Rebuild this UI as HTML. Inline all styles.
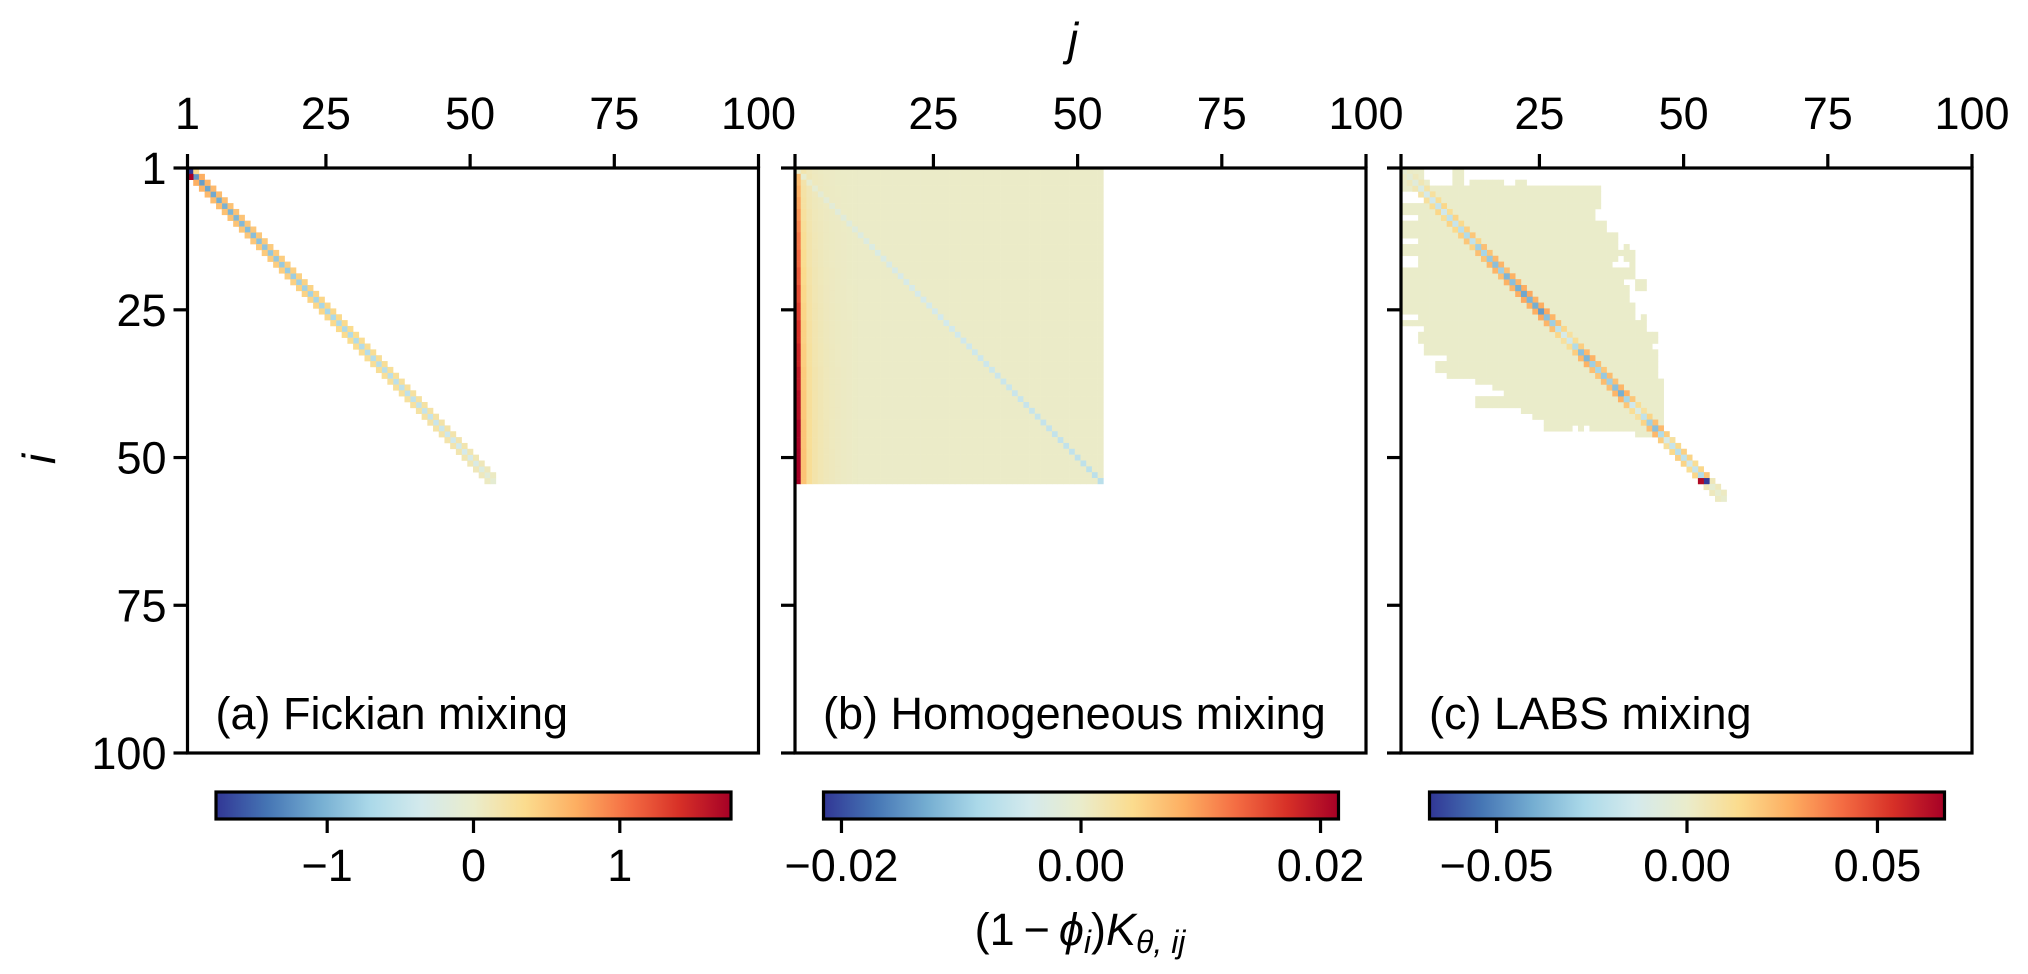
<!DOCTYPE html>
<html><head><meta charset="utf-8">
<style>
html,body{margin:0;padding:0;background:#fff;}
svg{display:block;font-family:"Liberation Sans",sans-serif;}
</style></head>
<body>
<svg id="fig" width="2028" height="974" viewBox="0 0 2028 974" xmlns="http://www.w3.org/2000/svg">
<g id="cells"></g>
<g id="axes"></g>
</svg>
<script>
// ---------- data ----------
const tickVals = [1, 25, 50, 75, 100];
const panelTitles = ["(a) Fickian mixing", "(b) Homogeneous mixing", "(c) LABS mixing"];
const vmaxes = [1.76, 0.0215, 0.0676];
const cbTicks1 = [-1, 0, 1];
const cbTickLabels1 = ["\u22121", "0", "1"];
const cbTicks2 = [-0.02, 0, 0.02];
const cbTickLabels2 = ["\u22120.02", "0.00", "0.02"];
const cbTicks3 = [-0.05, 0, 0.05];
const cbTickLabels3 = ["\u22120.05", "0.00", "0.05"];

// (a) Fickian: tridiagonal, 54 rows
const fickDiag = [-1.77,-1.2,-1.15,-1.1,-1.08,-1.05,-1.02,-1.0,-0.98,-0.96,-0.94,-0.92,-0.9,-0.88,-0.86,-0.85,-0.83,-0.82,-0.8,-0.78,-0.77,-0.76,-0.74,-0.73,-0.72,-0.7,-0.69,-0.68,-0.66,-0.65,-0.64,-0.62,-0.61,-0.6,-0.58,-0.57,-0.56,-0.54,-0.53,-0.52,-0.5,-0.48,-0.47,-0.45,-0.43,-0.41,-0.39,-0.37,-0.34,-0.31,-0.27,-0.22,-0.15,-0.08];
const fickOff = [0.35,0.7,0.65,0.62,0.6,0.58,0.56,0.55,0.54,0.53,0.52,0.51,0.5,0.49,0.48,0.47,0.46,0.45,0.44,0.43,0.42,0.41,0.4,0.39,0.38,0.37,0.36,0.35,0.34,0.33,0.32,0.31,0.3,0.3,0.29,0.28,0.27,0.26,0.25,0.24,0.23,0.22,0.21,0.2,0.19,0.18,0.17,0.16,0.14,0.12,0.1,0.08,0.05];
const fickSpecial = [[1, 0, 1.77]];

// (b) Homogeneous: 54x54 block
const homCol0 = [0.006,0.007,0.007,0.008,0.008,0.009,0.009,0.01,0.01,0.011,0.011,0.012,0.012,0.012,0.013,0.013,0.013,0.014,0.014,0.014,0.015,0.015,0.015,0.016,0.016,0.016,0.017,0.017,0.017,0.017,0.018,0.018,0.018,0.018,0.019,0.019,0.019,0.019,0.02,0.02,0.02,0.02,0.02,0.021,0.021,0.021,0.021,0.021,0.0215,0.0215,0.0215,0.0215,0.0215,0.0215];
const homFalloff = [1.0,0.3,0.16,0.1,0.07,0.05,0.035,0.025,0.018,0.012,0.008];
const homBg = 0.0002;
const homDiag = [-0.0003,-0.0005,-0.0008,-0.001,-0.0012,-0.0014,-0.0016,-0.0018,-0.002,-0.0022,-0.0024,-0.0026,-0.0028,-0.003,-0.0031,-0.0032,-0.0034,-0.0035,-0.0036,-0.0037,-0.0038,-0.0039,-0.004,-0.0041,-0.0042,-0.0043,-0.0044,-0.0045,-0.0046,-0.0047,-0.0048,-0.0049,-0.005,-0.005,-0.0051,-0.0052,-0.0053,-0.0054,-0.0055,-0.0056,-0.0057,-0.0058,-0.0059,-0.006,-0.006,-0.0061,-0.0062,-0.0063,-0.0064,-0.0065,-0.0066,-0.0067,-0.0068,-0.007];

// (c) LABS: nonzero column ranges per row
const labsRows = [
 [[0,3],[9,10]],[[0,3],[9,10]],[[0,4],[9,10],[12,17],[20,21]],[[0,34]],[[4,34]],[[4,34]],[[0,34]],[[0,33]],[[3,33]],[[0,35]],
 [[0,35]],[[0,37]],[[3,37]],[[0,37],[39,39]],[[0,40]],[[3,37],[39,40]],[[3,36],[40,40]],[[0,40]],[[0,40]],[[0,38],[41,42]],
 [[0,39],[41,42]],[[0,39]],[[0,39]],[[0,40]],[[0,40]],[[3,40],[42,42]],[[0,42]],[[4,42]],[[3,44]],[[3,44]],
 [[4,43]],[[4,44]],[[8,44]],[[6,44]],[[6,44]],[[8,44]],[[13,45]],[[16,45]],[[18,45]],[[13,45]],
 [[13,45]],[[21,45]],[[23,45]],[[25,45]],[[25,29],[31,31],[33,45]],[[41,46]],[[45,47]],[[46,48]],[[47,49]],[[48,50]],
 [[49,51]],[[50,52]],[[51,53]],[[52,54]],[[53,55]],[[54,56]],[[55,56]]
];
const labsBg = 0.0003;
const labsDiag = [-0.003,-0.004,-0.006,-0.01,-0.012,-0.015,-0.018,-0.015,-0.02,-0.018,-0.022,-0.025,-0.02,-0.03,-0.028,-0.032,-0.035,-0.03,-0.038,-0.035,-0.04,-0.042,-0.038,-0.04,-0.045,-0.035,-0.03,-0.02,-0.012,-0.015,-0.025,-0.035,-0.038,-0.03,-0.028,-0.032,-0.03,-0.035,-0.04,-0.028,-0.015,-0.01,-0.02,-0.03,-0.035,-0.025,-0.012,-0.018,-0.022,-0.02,-0.015,-0.018,-0.025,-0.067,-0.003,-0.002,-0.001];
const labsOff = [0.001,0.003,0.005,0.008,0.01,0.012,0.015,0.012,0.016,0.014,0.017,0.02,0.016,0.022,0.021,0.024,0.025,0.022,0.026,0.025,0.027,0.028,0.026,0.027,0.028,0.025,0.022,0.015,0.01,0.012,0.018,0.024,0.026,0.022,0.02,0.023,0.022,0.025,0.026,0.02,0.012,0.01,0.016,0.022,0.024,0.018,0.01,0.014,0.017,0.016,0.012,0.015,0.02,0.004,0.003,0.002];
const labsSpecial = [[53, 52, 0.065]];

// ---------- layout ----------
const NS = "http://www.w3.org/2000/svg";
const panelX = [187.5, 795, 1401];
const PW = 571, PT = 168, PH = 585;
const CW = PW / 100, CH = PH / 100;
const cbY = 792, cbH = 27, cbInset = 28.5, cbW = 515;
const FS = 45;
const cmapStops = ["#313695","#4575b4","#74add1","#abd9e9","#d4eaec","#eaeccb","#fbdc8e","#fdae61","#f46d43","#d73027","#a50026"];
function hex(c){return [parseInt(c.slice(1,3),16),parseInt(c.slice(3,5),16),parseInt(c.slice(5,7),16)];}
const cstops = cmapStops.map(hex);
function cmap(t){
  t = Math.max(0, Math.min(1, t));
  const s = t * 10, i = Math.min(9, Math.floor(s)), f = s - i;
  const a = cstops[i], b = cstops[i+1];
  return "rgb(" + [0,1,2].map(k => Math.round(a[k] + (b[k]-a[k]) * f)).join(",") + ")";
}
function colorFor(v, p){ return cmap((v / vmaxes[p] + 1) / 2); }
function xTick(p, j){ return panelX[p] + (j - 1) * PW / 99; }
function yTick(i){ return PT + (i - 1) * PH / 99; }
const cellG = document.getElementById("cells");
const axG = document.getElementById("axes");
function mk(tag, attrs, parent){
  const e = document.createElementNS(NS, tag);
  for (const k in attrs) e.setAttribute(k, attrs[k]);
  parent.appendChild(e);
  return e;
}
function cell(p, r, c, v, parent){
  const e = mk("rect", {x: panelX[p] + c * CW, y: PT + r * CH, width: CW + 0.3, height: CH + 0.3, fill: colorFor(v, p)}, parent);
  
  
}

// panel a
const gA = mk("g", {}, cellG);


fickDiag.forEach((v, r) => cell(0, r, r, v, gA));
fickOff.forEach((v, r) => {
  if (!(r === 0)) cell(0, r + 1, r, v, gA);
  cell(0, r, r + 1, v, gA);
});
fickSpecial.forEach(s => cell(0, s[0], s[1], s[2], gA));

// panel b
const gB = mk("g", {}, cellG);


const nB = homDiag.length;
for (let r = 0; r < nB; r++) {
  for (let c = 0; c < nB; c++) {
    let v = homBg;
    if (c < homFalloff.length) v += homCol0[r] * homFalloff[c];
    if (c === r) v = homDiag[r];
    cell(1, r, c, v, gB);
  }
}

// panel c
const gC = mk("g", {}, cellG);


labsRows.forEach((ranges, r) => {
  ranges.forEach(rg => { for (let c = rg[0]; c <= rg[1]; c++) cell(2, r, c, labsBg, gC); });
});
labsOff.forEach((v, r) => { cell(2, r, r + 1, v, gC); cell(2, r + 1, r, v, gC); });
labsDiag.forEach((v, r) => cell(2, r, r, v, gC));
labsSpecial.forEach(s => cell(2, s[0], s[1], s[2], gC));

// ---------- axes ----------
function line(x1, y1, x2, y2, w, parent, name){
  const e = mk("line", {x1, y1, x2, y2, stroke: "#000", "stroke-width": w}, parent);
  
  
  return e;
}
function text(x, y, s, anchor, size, parent, name, extra){
  const e = mk("text", Object.assign({x, y, "text-anchor": anchor, "font-size": size, fill: "#000"}, extra || {}), parent);
  e.textContent = s;
  
  
  return e;
}
const cbTicksAll = [cbTicks1, cbTicks2, cbTicks3];
const cbLabelsAll = [cbTickLabels1, cbTickLabels2, cbTickLabels3];
for (let p = 0; p < 3; p++) {
  const g = mk("g", {}, axG);
  
  
  const x0 = panelX[p];
  const fr = mk("rect", {x: x0, y: PT, width: PW, height: PH, fill: "none", stroke: "#000", "stroke-width": 3.2}, g);
  
  
  tickVals.forEach(t => {
    const x = xTick(p, t);
    line(x, PT, x, PT - 14, 3.2, g, 'x-tick');
    if (!(p > 0 && t === 1)) text(x, 129, String(t), "middle", FS, g, 'x-tick-label');
    const y = yTick(t);
    line(x0, y, x0 - 14, y, 3.2, g, 'y-tick');
    if (p === 0) text(x0 - 21, y + 16, String(t), "end", FS, g, 'y-tick-label');
  });
  text(x0 + 28, 729, panelTitles[p], "start", FS, g, 'panel-title');
  // colorbar
  const cx = x0 + cbInset;
  const grad = mk("linearGradient", {id: "cg" + p, x1: 0, x2: 1, y1: 0, y2: 0}, g);
  for (let k = 0; k <= 20; k++) mk("stop", {offset: k / 20, "stop-color": cmap(k / 20)}, grad);
  const cb = mk("rect", {x: cx, y: cbY, width: cbW, height: cbH, fill: "url(#cg" + p + ")", stroke: "#000", "stroke-width": 3.2}, g);
  
  
  cbTicksAll[p].forEach((t, k) => {
    const x = cx + cbW / 2 + (t / vmaxes[p]) * cbW / 2;
    line(x, cbY + cbH, x, cbY + cbH + 14, 3.2, g, 'colorbar-tick');
    text(x, 881, cbLabelsAll[p][k], "middle", FS, g, 'colorbar-tick-label');
  });
}
text(1073, 55, "j", "middle", 46, axG, 'x-axis-title', {"font-style": "italic"});
text(0, 0, "i", "middle", 46, axG, 'y-axis-title', {"font-style": "italic", transform: "translate(55,459) rotate(-90)"});
const cl = mk("text", {x: 1080, y: 945, "text-anchor": "middle", "font-size": 45}, axG);


cl.innerHTML = '(1\u2009\u2212\u2009<tspan font-style="italic">\u03d5</tspan><tspan font-style="italic" font-size="32" dy="8">i</tspan><tspan dy="-8">)</tspan><tspan font-style="italic">K</tspan><tspan font-style="italic" font-size="32" dy="8">\u03b8, ij</tspan>';
</script>
</body></html>
